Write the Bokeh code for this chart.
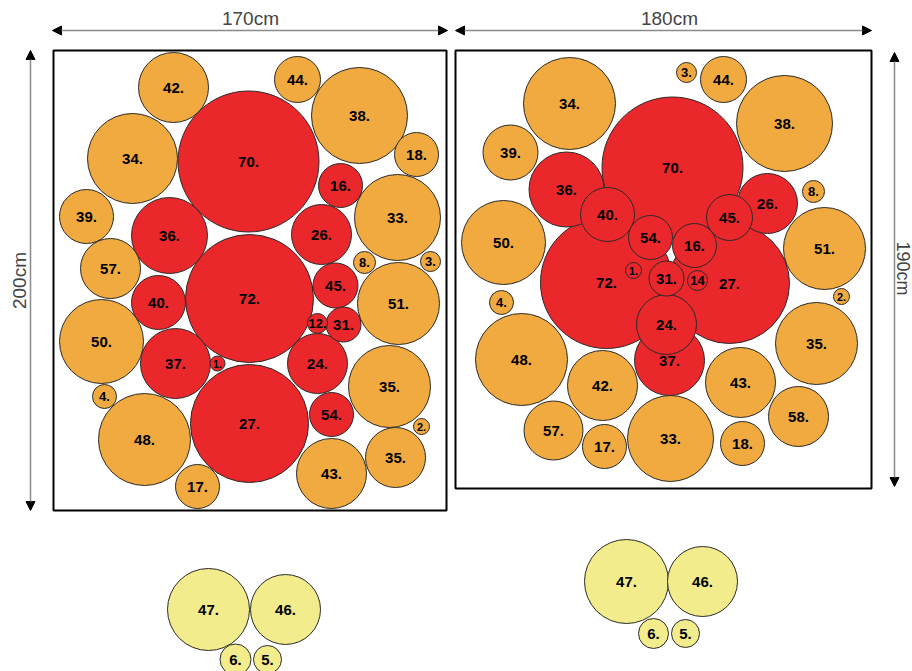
from bokeh.plotting import figure
from bokeh.models import Range1d, ColumnDataSource, Arrow, NormalHead, Label
from bokeh.embed import file_html
from bokeh.resources import INLINE
from bokeh.core.properties import value

# ---- data (image pixel space) ----
left_labels = ["70.", "72.", "27.", "38.", "48.", "34.", "33.", "50.", "51.", "35.", "42.", "36.", "37.", "43.",
               "26.", "24.", "35.", "57.", "39.", "40.", "44.", "45.", "18.", "16.", "54.", "17.", "31.",
               "4.", "8.", "12.", "3.", "2.", "1."]
left_x = [248, 249, 249, 359, 144, 132, 397, 101, 398, 389, 173, 169, 175, 331,
          321, 317, 395, 110, 86, 158, 297, 335, 416, 340, 331, 197, 343,
          104, 364, 317, 430, 421, 217]
left_y = [161, 298, 423, 115, 439, 158, 217, 341, 303, 386, 87, 235, 363, 473,
          234, 363, 457, 268, 216, 302, 79, 285, 154, 185, 414, 486, 324,
          396, 262, 323, 261, 426, 363]
left_r = [70.5, 64, 59, 48, 46, 45, 43, 42, 41, 41, 35, 38, 35, 35,
          30, 30, 30, 30, 27, 27, 23, 22.5, 22, 22, 22, 22, 17.5,
          12, 11, 10, 10, 8, 7.5]
left_kind = ["r", "r", "r", "o", "o", "o", "o", "o", "o", "o", "o", "r", "r", "o",
             "r", "r", "o", "o", "o", "r", "o", "r", "o", "r", "r", "o", "r",
             "o", "o", "r", "o", "o", "r"]

right_labels = ["70.", "72.", "27.", "38.", "34.", "48.", "33.", "50.", "51.", "35.", "36.", "42.", "43.",
                "37.", "26.", "24.", "58.", "57.", "39.", "40.", "44.", "45.", "54.", "16.", "17.", "18.",
                "31.", "4.", "8.", "3.", "14", "2.", "1."]
right_x = [672, 606, 729, 784, 569, 521, 670, 503, 824, 816, 566, 602, 740,
           669, 767, 666, 798, 553, 510, 607, 723, 729, 650, 694, 604, 742,
           666, 501, 813, 686, 697, 841, 633]
right_y = [167, 282, 283, 123, 103, 359, 438, 242, 248, 343, 189, 385, 382,
           360, 203, 324, 416, 430, 152, 214, 79, 217, 237, 245, 446, 443,
           278, 302, 191, 72, 280, 296, 270]
right_r = [70.5, 66, 60, 48, 46, 46, 43, 42, 41, 41, 37.5, 35, 35,
           35, 30, 30, 30, 29.5, 27.5, 27, 23, 23, 22, 22, 22, 22,
           17.5, 12, 11, 10, 10, 8, 8]
right_kind = ["r", "r", "r", "o", "o", "o", "o", "o", "o", "o", "r", "o", "o",
              "r", "r", "r", "o", "o", "o", "r", "o", "r", "r", "r", "o", "o",
              "r", "o", "o", "o", "r", "o", "r"]

extra_labels = ["47.", "46.", "6.", "5.", "47.", "46.", "6.", "5."]
extra_x = [208, 285, 235, 267, 626, 702, 653, 685]
extra_y = [609, 609, 659, 659, 581, 581, 633, 633]
extra_r = [41, 35, 15.5, 14, 42, 35, 15, 14]
extra_kind = ["y"] * 8

dim_texts = ["170cm", "180cm", "200cm", "190cm"]

COLORS = {"r": "#EA282C", "o": "#F0AA40", "y": "#F2EC8C"}


def font_size(r):
    if r >= 14:
        return "15px"
    if r >= 10:
        return "13px"
    if r >= 8:
        return "11px"
    return "10px"


p = figure(width=912, height=671, output_backend="svg", toolbar_location=None,
           x_range=Range1d(0, 912), y_range=Range1d(671, 0),
           min_border=0, outline_line_color=None)
p.axis.visible = False
p.grid.visible = False
p.background_fill_color = "white"

# frames
p.quad(left=[53, 455], right=[446, 871], top=[50, 50], bottom=[510, 488],
       fill_color=None, line_color="black", line_width=2)

for labels, xs, ys, rs, kinds in [(left_labels, left_x, left_y, left_r, left_kind),
                                  (right_labels, right_x, right_y, right_r, right_kind),
                                  (extra_labels, extra_x, extra_y, extra_r, extra_kind)]:
    src = ColumnDataSource(dict(x=xs, y=ys, r=rs, t=labels,
                                c=[COLORS[k] for k in kinds],
                                fs=[font_size(r) for r in rs]))
    p.circle(x="x", y="y", radius="r", source=src, fill_color="c",
             line_color="#2a2a2a", line_width=1)
    p.text(x="x", y="y", text="t", source=src, text_align="center",
           text_baseline="middle", text_font=value("Liberation Sans"),
           text_font_style="bold", text_font_size="fs", text_color="black")

# dimension arrows
def arrow(x0, y0, x1, y1):
    p.add_layout(Arrow(x_start=x0, y_start=y0, x_end=x1, y_end=y1,
                       line_color="#8a8a8a", line_width=1.5,
                       start=NormalHead(size=9, fill_color="black", line_color="black"),
                       end=NormalHead(size=9, fill_color="black", line_color="black")))

arrow(52, 30, 447, 30)
arrow(455, 30, 871, 30)
arrow(30, 50, 30, 510)
arrow(894, 52, 894, 486)

lab_font = "Liberation Sans"
p.add_layout(Label(x=250, y=18, text=dim_texts[0], text_align="center", text_baseline="middle",
                   text_font=lab_font, text_font_size="19px"))
p.add_layout(Label(x=669, y=18, text=dim_texts[1], text_align="center", text_baseline="middle",
                   text_font=lab_font, text_font_size="19px"))
p.add_layout(Label(x=19, y=280, text=dim_texts[2], text_align="center", text_baseline="middle",
                   text_font=lab_font, text_font_size="19px", angle=90, angle_units="deg"))
p.add_layout(Label(x=902, y=268, text=dim_texts[3], text_align="center", text_baseline="middle",
                   text_font=lab_font, text_font_size="18px", angle=-90, angle_units="deg"))

open("out.html", "w").write(file_html(p, INLINE))
